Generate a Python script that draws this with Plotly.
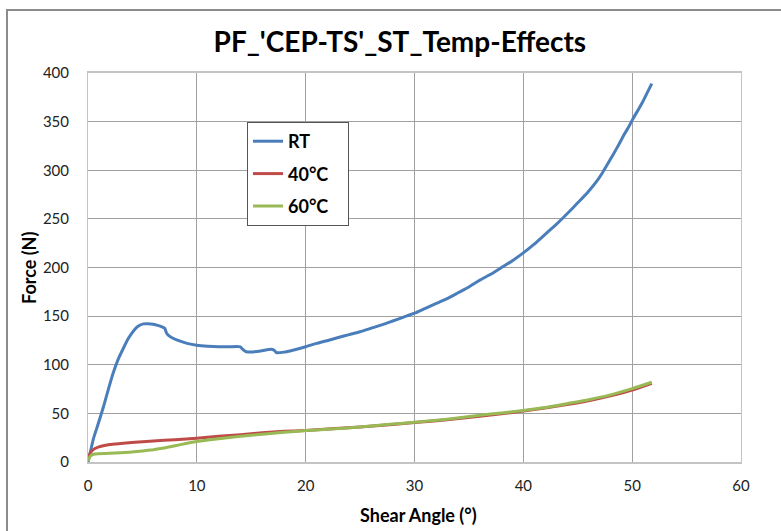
import plotly.graph_objects as go

rt_x = [0, 0.25, 0.5, 0.9, 1.4, 1.85, 2.3, 2.75, 3.25, 3.7, 4.2, 4.6, 5.1, 5.5, 6.0, 6.4, 6.8, 7.05, 7.2, 7.35, 7.6, 8.15, 9.1, 10, 11, 12, 13, 14.0, 14.2, 14.5, 15, 16, 16.8, 17.1, 17.3, 18, 19, 20, 21, 22.2, 23, 24, 25, 26, 27, 28, 29, 30, 31, 32, 33, 34, 35, 36, 37, 38, 39, 40, 41, 42, 43, 44, 45, 46, 46.7, 47.3, 47.8, 48.3, 48.8, 49.2, 49.7, 50.1, 50.6, 51.0, 51.4, 51.8]
rt_y = [0, 12, 24, 38, 56, 74, 91, 105, 117, 127, 135, 139.5, 142, 142.2, 141.6, 140.5, 139, 137.5, 133, 130.6, 128.5, 125.5, 122, 120, 119, 118.5, 118.5, 118.5, 116, 113.5, 113, 114.5, 116, 115, 112.5, 113, 115.5, 118.5, 122, 125.5, 128, 131, 134, 137.5, 141, 145, 149, 153, 158, 163, 168, 174, 180, 187, 193, 200, 207, 215, 224, 234, 244, 255, 266.5, 278.5, 288, 298, 307.5, 317, 327, 335.5, 345, 353.5, 363, 371, 380, 389]

c40_x = [0, 0.2, 0.5, 1, 1.5, 2, 3, 4, 6, 8, 10, 12, 14, 16, 18, 20, 22, 25, 28, 30, 33, 36, 38, 40, 42, 44, 46, 48, 50, 51.8]
c40_y = [3, 9, 13, 15.5, 17, 18, 19, 20, 21.5, 23, 24.5, 26.5, 28, 30, 31.5, 32.5, 34, 36, 38.5, 40.5, 43.5, 47, 49.5, 52.5, 55.5, 59, 63, 68, 74, 81]

c60_x = [0, 0.2, 0.5, 1, 2, 3, 4, 5, 6, 7, 8, 9, 10, 12, 14, 16, 18, 20, 22, 25, 28, 30, 33, 36, 38, 40, 42, 44, 46, 48, 50, 51.8]
c60_y = [1, 6, 8, 8.5, 9, 9.5, 10.2, 11.3, 12.7, 14.5, 16.7, 19, 21, 24, 26.5, 28.5, 30.5, 32.3, 33.6, 36, 39, 40.8, 44, 48, 50.5, 53, 56, 60, 64, 69, 75.5, 82]

series_names = ["RT", "40°C", "60°C"]
x_ticks = [0, 10, 20, 30, 40, 50, 60]
y_ticks = [0, 50, 100, 150, 200, 250, 300, 350, 400]

FONT = "Lato"
W, H = 781, 531
ML, MR, MT, MB = 88, 40, 73, 69
PW, PH = W - ML - MR, H - MT - MB

fig = go.Figure()
for (xs, ys, name, col, grp) in [
    (rt_x, rt_y, series_names[0], "#4A7EBB", "a"),
    (c40_x, c40_y, series_names[1], "#BE4B48", "b"),
    (c60_x, c60_y, series_names[2], "#98B954", "c"),
]:
    fig.add_trace(go.Scatter(x=xs, y=ys, mode="lines", name="<b>" + name + "</b>&nbsp;&nbsp;&nbsp;",
                             legendgroup=grp,
                             line=dict(color=col, width=3, shape="spline", smoothing=0.5)))

def px2paper_x(p):
    return (p - ML) / PW

def px2paper_y(p):
    return 1 - (p - MT) / PH

fig.update_layout(
    width=W, height=H,
    margin=dict(l=ML, r=MR, t=MT, b=MB, autoexpand=False),
    paper_bgcolor="white", plot_bgcolor="white",
    title=dict(text="<b>PF_'CEP-TS'_ST_Temp-Effects</b>", x=0.512, xanchor="center",
               y=1 - 42 / H, yanchor="middle",
               font=dict(family=FONT, size=28, color="black")),
    font=dict(family=FONT, color="black"),
    xaxis=dict(range=[0, 60], tickvals=x_ticks, showgrid=True, gridcolor="#a0a0a0", gridwidth=1,
               showline=True, linecolor="#c4c4c4", linewidth=2, mirror=True, zeroline=False,
               tickfont=dict(size=15, color="#222"), ticklabelstandoff=9, automargin=False),
    yaxis=dict(range=[0, 400], tickvals=y_ticks, showgrid=True, gridcolor="#a0a0a0", gridwidth=1,
               showline=True, linecolor="#c4c4c4", linewidth=1, mirror=True, zeroline=False,
               tickfont=dict(size=15, color="#222"), ticklabelstandoff=15, automargin=False),
    legend=dict(x=px2paper_x(247), y=px2paper_y(122), xanchor="left", yanchor="top",
                bgcolor="white", bordercolor="#555", borderwidth=1,
                font=dict(family=FONT, size=18, color="black"), tracegroupgap=6,
                itemwidth=30),
    showlegend=True,
)

fig.add_annotation(text="<b>Shear Angle (°)</b>", xref="paper", yref="paper",
                   x=px2paper_x(418), y=px2paper_y(515), xanchor="center", yanchor="middle",
                   showarrow=False, font=dict(family=FONT, size=18, color="black"))
fig.add_annotation(text="<b>Force (N)</b>", xref="paper", yref="paper",
                   x=px2paper_x(29), y=px2paper_y(268), xanchor="center", yanchor="middle",
                   textangle=-90, showarrow=False, font=dict(family=FONT, size=18, color="black"))

fig.add_shape(type="rect", xref="paper", yref="paper",
              x0=px2paper_x(7), x1=px2paper_x(800), y0=px2paper_y(560), y1=px2paper_y(10),
              line=dict(color="#8c8c8c", width=2), fillcolor="rgba(0,0,0,0)", layer="below")

fig.write_html("out.html", config={"displayModeBar": False},
               post_script="document.body.style.margin='0';document.body.style.overflow='hidden';")
